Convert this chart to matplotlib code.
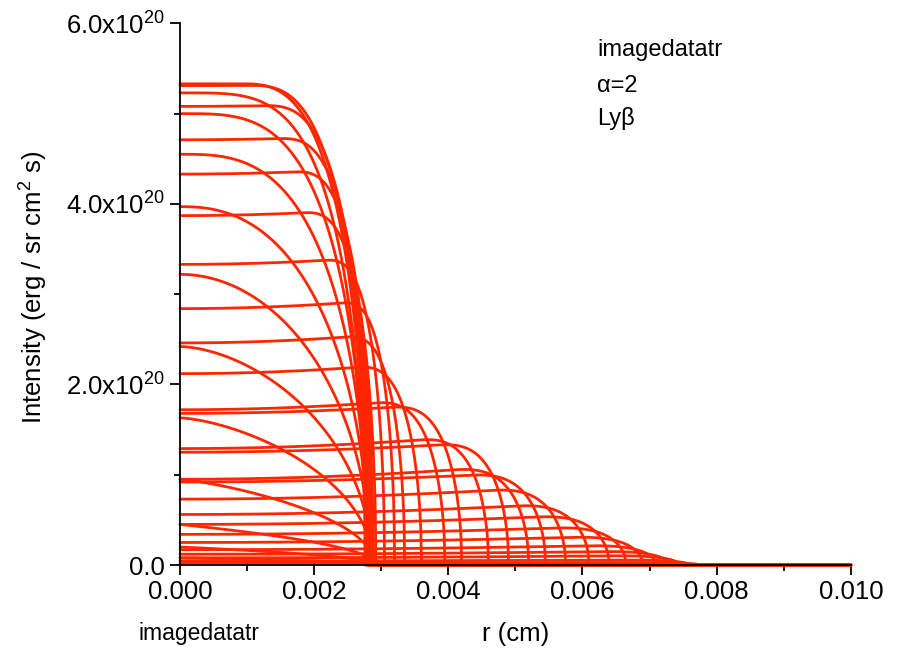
import matplotlib
matplotlib.use("Agg")
import matplotlib.pyplot as plt
import numpy as np
from matplotlib.ticker import FixedLocator, FuncFormatter

plt.rcParams["font.family"] = ["Liberation Sans", "DejaVu Sans"]
plt.rcParams["mathtext.default"] = "regular"

RED = "#ff2600"

# flat-topped profiles: intensity at r=0 and at the shoulder (1e20), edge radius and
# width of the rounded fall-off (1e-3 cm)
flat_h0 = [5.33, 5.31, 5.08, 4.71, 4.33, 3.87, 3.33, 2.84, 2.46, 2.12, 1.72, 1.68,
           1.29, 1.25, 0.95, 0.92, 0.73, 0.56, 0.45, 0.34, 0.25, 0.17, 0.12, 0.08,
           0.045, 0.02]
flat_peak = [5.34, 5.33, 5.12, 4.76, 4.40, 3.95, 3.42, 2.95, 2.58, 2.25, 1.86, 1.80,
             1.45, 1.38, 1.12, 1.04, 0.88, 0.70, 0.57, 0.44, 0.33, 0.23, 0.16, 0.11,
             0.06, 0.03]
flat_edge = [2.78, 2.80, 2.82, 2.85, 2.88, 2.92, 3.05, 3.20, 3.35, 3.60, 3.95, 4.20,
             4.60, 4.90, 5.20, 5.45, 5.75, 6.10, 6.40, 6.65, 6.90, 7.10, 7.30, 7.45,
             7.60, 7.75]
flat_width = [1.9, 1.8, 1.6, 1.4, 1.2, 1.1, 0.9, 0.8, 0.9, 1.0, 1.1, 1.1,
              1.1, 1.1, 1.2, 1.2, 1.2, 1.2, 1.2, 1.2, 1.2, 1.2, 1.2, 1.2,
              1.2, 1.2]

# dome-shaped profiles ending near r = 0.0028 cm
dome_h0 = [5.23, 5.00, 4.55, 3.97, 3.22, 2.42, 1.63, 0.95, 0.45, 0.20, 0.08]
dome_edge = [2.76, 2.78, 2.80, 2.82, 2.84, 2.86, 2.88, 2.90, 2.92, 2.94, 2.96]
dome_power = [4.0, 3.5, 3.0, 2.4, 2.0, 1.7, 1.5, 1.25, 1.0, 1.0, 1.0]

x_ticks = [0.0, 0.002, 0.004, 0.006, 0.008, 0.010]
y_ticks = [0.0, 2e20, 4e20, 6e20]


def flat_curve(h0, peak, edge, width):
    edge *= 1e-3
    width *= 1e-3
    r = np.linspace(0, edge, 400)
    base = h0 + (peak - h0) * (r / edge) ** 2
    u = np.clip((r - (edge - width)) / width, 0, 1)
    val = base * np.sqrt(np.clip(1 - u ** 3, 0, 1))
    r = np.append(r, 0.010)
    val = np.append(val, 0.0)
    return r, val * 1e20


def dome_curve(h0, edge, power):
    edge *= 1e-3
    r = np.linspace(0, edge, 400)
    val = h0 * np.sqrt(np.clip(1 - (r / edge) ** power, 0, 1))
    return r, val * 1e20


fig = plt.figure(figsize=(9.09, 6.48), dpi=100)
ax = fig.add_axes([0.198, 0.128, 0.738, 0.836])

for h0, pk, ed, wd in zip(flat_h0, flat_peak, flat_edge, flat_width):
    r, v = flat_curve(h0, pk, ed, wd)
    ax.plot(r, v, color=RED, lw=2.0, solid_capstyle="round", clip_on=False)
for h0, ed, pw in zip(dome_h0, dome_edge, dome_power):
    r, v = dome_curve(h0, ed, pw)
    ax.plot(r, v, color=RED, lw=2.0, solid_capstyle="round", clip_on=False)

ax.set_xlim(0, 0.010)
ax.set_ylim(0, 6e20)
for side in ("top", "right"):
    ax.spines[side].set_visible(False)
for side in ("left", "bottom"):
    ax.spines[side].set_linewidth(1.3)

ax.xaxis.set_major_locator(FixedLocator(x_ticks))
ax.xaxis.set_minor_locator(FixedLocator([0.001, 0.003, 0.005, 0.007, 0.009]))
ax.yaxis.set_major_locator(FixedLocator(y_ticks))
ax.yaxis.set_minor_locator(FixedLocator([1e20, 3e20, 5e20]))
ax.xaxis.set_major_formatter(FuncFormatter(lambda v, p: f"{v:.3f}"))
ax.yaxis.set_major_formatter(
    FuncFormatter(lambda v, p: "0.0" if v == 0 else f"{v / 1e20:.1f}x10$^{{20}}$"))
ax.tick_params(which="major", direction="out", length=7, width=1.3, labelsize=18.5, pad=4)
ax.tick_params(which="minor", direction="out", length=4, width=1.3)

ax.set_xlabel("r (cm)", fontsize=18.5)
ax.xaxis.set_label_coords(0.5, -0.105)
fig.text(0.037, 0.556, "Intensity (erg / sr cm$^2$ s)", fontsize=18.5,
         rotation=90, ha="center", va="center")

fig.text(0.657, 0.923, "imagedatatr", fontsize=17, va="center")
fig.text(0.657, 0.868, "\u03b1=2", fontsize=17, va="center")
fig.text(0.657, 0.817, "Ly\u03b2", fontsize=17, va="center")
fig.text(0.152, 0.013, "imagedatatr", fontsize=16.5, va="baseline")

fig.savefig("out.png", dpi=100)
